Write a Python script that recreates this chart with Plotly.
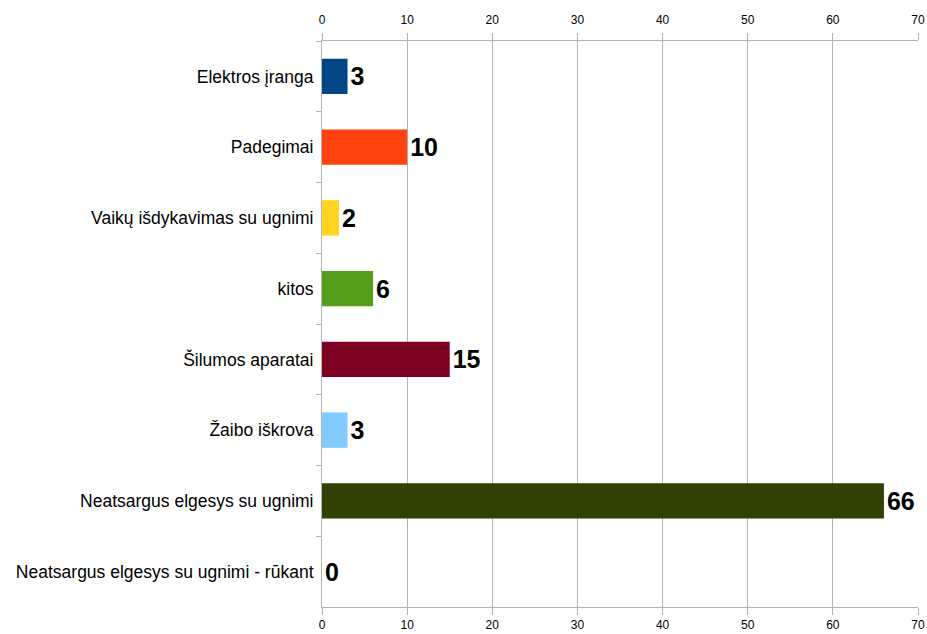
import plotly.graph_objects as go

categories = [
    "Elektros įranga",
    "Padegimai",
    "Vaikų išdykavimas su ugnimi",
    "kitos",
    "Šilumos aparatai",
    "Žaibo iškrova",
    "Neatsargus elgesys su ugnimi",
    "Neatsargus elgesys su ugnimi - rūkant",
]
values = [3, 10, 2, 6, 15, 3, 66, 0]
colors = ["#004586", "#ff420e", "#ffd320", "#579d1c", "#7e0021", "#83caff", "#314004", "#aecf00"]
x_ticks = [0, 10, 20, 30, 40, 50, 60, 70]

grid = "#b3b3b3"

fig = go.Figure()
fig.add_trace(go.Bar(
    x=values, y=categories, orientation="h",
    marker=dict(color=colors, line=dict(width=0)),
    text=values, texttemplate="%{x}", textposition="outside",
    textfont=dict(family="Liberation Sans", size=25, color="black", weight="bold"),
    constraintext="none", cliponaxis=False, showlegend=False, hoverinfo="x+y",
))
fig.add_trace(go.Scatter(
    x=values, y=categories, xaxis="x2", mode="markers",
    marker=dict(opacity=0), showlegend=False, hoverinfo="skip",
))

fig.update_layout(
    width=927, height=634,
    margin=dict(l=322, r=9, t=41, b=27, autoexpand=False),
    paper_bgcolor="white", plot_bgcolor="white",
    bargap=0.5,
    font=dict(family="Liberation Sans", color="black"),
    xaxis=dict(
        range=[0, 70], tickvals=x_ticks, side="bottom", automargin=False,
        showgrid=True, gridcolor=grid, gridwidth=1, zeroline=False,
        showline=True, linecolor=grid, linewidth=1,
        ticks="outside", ticklen=7, tickcolor=grid,
        tickfont=dict(size=12, color="black"), ticklabelstandoff=0,
    ),
    xaxis2=dict(
        range=[0, 70], tickvals=x_ticks, side="top", overlaying="x", automargin=False,
        showgrid=False, zeroline=False,
        showline=True, linecolor=grid, linewidth=1,
        ticks="outside", ticklen=7, tickcolor=grid,
        tickfont=dict(size=12, color="black"), ticklabelstandoff=4,
    ),
    yaxis=dict(
        autorange="reversed", type="category", automargin=False,
        showline=True, linecolor=grid, linewidth=1,
        ticks="outside", ticklen=5, tickcolor=grid, tickson="boundaries",
        showgrid=False, tickfont=dict(size=17.5, color="black"),
        ticklabelstandoff=4,
    ),
)

fig.write_html(
    "out.html",
    config={"displayModeBar": False},
    post_script="document.body.style.margin='0';document.body.style.overflow='hidden';",
)
